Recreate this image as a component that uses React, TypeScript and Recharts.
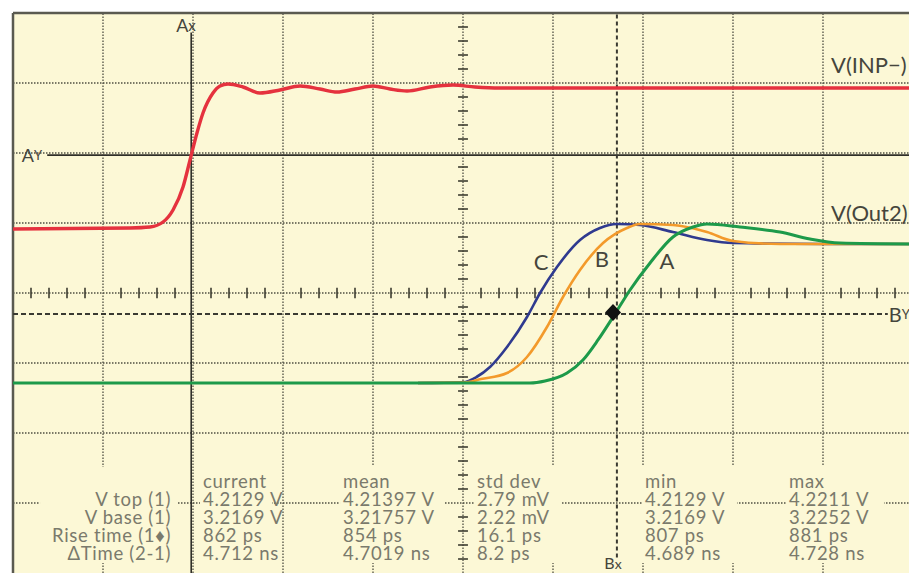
import React from 'react';
import { LineChart, Line, XAxis, YAxis, CartesianGrid, ReferenceLine, ReferenceDot } from 'recharts';

// Units: screen divisions (10 horizontal, 8 vertical)
const inpT = [0, 1.3, 1.522, 1.667, 1.778, 1.889, 1.967, 2.044, 2.111, 2.222, 2.3, 2.389, 2.556, 2.744, 2.967, 3.189, 3.411, 3.6, 3.8, 4.0, 4.189, 4.378, 4.633, 4.889, 5.133, 5.411, 10];
const inpV = [4.914, 4.929, 4.943, 5.014, 5.186, 5.514, 5.9, 6.286, 6.571, 6.857, 6.957, 6.986, 6.943, 6.857, 6.9, 6.957, 6.914, 6.871, 6.914, 6.957, 6.914, 6.886, 6.943, 6.971, 6.943, 6.929, 6.929];

const aT = [0, 5.744, 5.911, 6.156, 6.333, 6.5, 6.667, 6.856, 7.078, 7.333, 7.556, 7.711, 8.078, 8.522, 8.856, 9.189, 10];
const aV = [2.714, 2.714, 2.743, 2.857, 3.043, 3.329, 3.657, 4.043, 4.429, 4.8, 4.943, 4.986, 4.943, 4.871, 4.771, 4.714, 4.7];

const bT = [4.5, 5.0, 5.2, 5.489, 5.711, 5.933, 6.111, 6.3, 6.556, 6.822, 6.967, 7.333, 7.711, 8.0, 8.522, 9.0, 10];
const bV = [2.714, 2.72, 2.77, 2.857, 3.086, 3.514, 3.943, 4.329, 4.714, 4.929, 4.986, 4.971, 4.871, 4.743, 4.7, 4.7, 4.7];

const cT = [4.5, 5.0, 5.15, 5.3, 5.489, 5.711, 5.856, 6.044, 6.3, 6.522, 6.711, 6.967, 7.333, 7.711, 8.0, 9.0, 10];
const cV = [2.714, 2.725, 2.8, 2.943, 3.229, 3.657, 4.0, 4.371, 4.757, 4.929, 4.986, 4.971, 4.871, 4.757, 4.714, 4.7, 4.7];

const gridX = [1, 2, 3, 4, 6, 7, 8, 9];
const gridY = [1, 2, 3, 5, 6, 7];
const centerX = 5;
const centerY = 4;

const rowLabels = ['V top (1)', 'V base (1)', 'Rise time (1\u2666)', '\u0394Time (2-1)'];
const columnHeaders = ['current', 'mean', 'std dev', 'min', 'max'];
const currentVals = ['4.2129 V', '3.2169 V', '862 ps', '4.712 ns'];
const meanVals = ['4.21397 V', '3.21757 V', '854 ps', '4.7019 ns'];
const stdDevVals = ['2.79 mV', '2.22 mV', '16.1 ps', '8.2 ps'];
const minVals = ['4.2129 V', '3.2169 V', '807 ps', '4.689 ns'];
const maxVals = ['4.2211 V', '3.2252 V', '881 ps', '4.728 ns'];
const columnX = [2.111, 3.667, 5.156, 7.022, 8.622];
const columnW = [72, 104, 88, 95, 98];
const tableHeaderY = 1.314;
const labelColX = 1.756;

const BG = '#fcf8d6';
const GRID = '#4f4f42';
const TABLE = '#7a7a6c';
const LABEL = '#45453c';
const FONT = "Lato, 'Noto Sans', sans-serif";

const pts = (t: number[], v: number[]) => t.map((x, i) => ({ x, y: v[i] }));

const minorXs: number[] = [];
for (let k = 1; k < 50; k++) if (k % 5 !== 0) minorXs.push(k / 5);
const minorYs: number[] = [];
for (let k = 1; k < 40; k++) if (k % 5 !== 0) minorYs.push(k / 5);

const rowOffsets = [0, 17.5, 35.5, 53.5, 72];
const TS = 18.5;
const LS = 0.7;

const txt = (key: string, x: number, y: number, content: React.ReactNode, size: number, color: string, anchor: string = 'start') => (
  <ReferenceDot
    key={key}
    x={x}
    y={y}
    r={0}
    ifOverflow="visible"
    shape={(p: any) => (
      <text x={p.cx} y={p.cy} fontSize={size} fill={color} fontFamily={FONT} textAnchor={anchor as any} dominantBaseline="central">
        {content}
      </text>
    )}
  />
);

export default function App() {
  const allCols = [currentVals, meanVals, stdDevVals, minVals, maxVals];
  return (
    <div style={{ position: 'fixed', left: 0, top: 0, width: 909, height: 573, overflow: 'hidden', background: '#ffffff' }}>
      <LineChart width={925} height={590} margin={{ top: 13, left: 13, right: 12, bottom: 17 }}>
        <CartesianGrid horizontal={false} vertical={false} fill={BG} stroke="none" />
        <XAxis type="number" dataKey="x" domain={[0, 10]} hide allowDataOverflow />
        <YAxis type="number" dataKey="y" domain={[0, 8]} hide allowDataOverflow />

        {gridX.map((x) => (
          <ReferenceLine key={'gx' + x} x={x} stroke={GRID} strokeWidth={1.3} strokeDasharray="1.5 1.5" />
        ))}
        {gridY.map((y) => (
          <ReferenceLine key={'gy' + y} y={y} stroke={GRID} strokeWidth={1.3} strokeDasharray="1.5 1.5" />
        ))}
        <ReferenceLine x={centerX} stroke={GRID} strokeWidth={1.3} strokeDasharray="1.5 1.5" />
        <ReferenceLine y={centerY} stroke={GRID} strokeWidth={1.3} strokeDasharray="1.5 1.5" />
        {minorXs.map((x) => (
          <ReferenceLine key={'mx' + x} segment={[{ x, y: centerY - 0.075 }, { x, y: centerY + 0.075 }]} stroke="#3c3c30" strokeWidth={1.6} />
        ))}
        {minorYs.map((y) => (
          <ReferenceLine key={'my' + y} segment={[{ x: centerX - 0.055, y }, { x: centerX + 0.055, y }]} stroke="#3c3c30" strokeWidth={1.6} />
        ))}

        {/* frame */}
        <ReferenceLine x={0} stroke="#5a5a50" strokeWidth={2.5} />
        <ReferenceLine y={8} stroke="#5a5a50" strokeWidth={2.5} />

        {/* cursors */}
        <ReferenceLine segment={[{ x: 1.98, y: 0 }, { x: 1.98, y: 7.72 }]} stroke="#2f2f28" strokeWidth={1.6} />
        <ReferenceLine segment={[{ x: 0.38, y: 5.97 }, { x: 10, y: 5.97 }]} stroke="#2f2f28" strokeWidth={1.6} />
        <ReferenceLine segment={[{ x: 6.71, y: 0.22 }, { x: 6.71, y: 8 }]} stroke="#3a3a32" strokeWidth={2} strokeDasharray="4 3" />
        <ReferenceLine segment={[{ x: 0, y: 3.7 }, { x: 9.72, y: 3.7 }]} stroke="#3a3a32" strokeWidth={2} strokeDasharray="5 3" />

        <Line data={pts(cT, cV)} dataKey="y" type="monotone" stroke="#2f3a8f" strokeWidth={2.6} dot={false} isAnimationActive={false} />
        <Line data={pts(bT, bV)} dataKey="y" type="monotone" stroke="#f39a2b" strokeWidth={2.6} dot={false} isAnimationActive={false} />
        <Line data={pts(aT, aV)} dataKey="y" type="monotone" stroke="#1d9a4a" strokeWidth={3} dot={false} isAnimationActive={false} />
        <Line data={pts(inpT, inpV)} dataKey="y" type="monotone" stroke="#e5323e" strokeWidth={3.4} dot={false} isAnimationActive={false} />

        <ReferenceDot
          x={6.667}
          y={3.72}
          r={8}
          ifOverflow="visible"
          shape={(p: any) => (
            <polygon points={`${p.cx},${p.cy - 8.5} ${p.cx + 8},${p.cy} ${p.cx},${p.cy + 8.5} ${p.cx - 8},${p.cy}`} fill="#111" />
          )}
        />

        {txt('ax', 1.922, 7.83, <>A<tspan fontSize={15}>x</tspan></>, 18, LABEL, 'middle')}
        {txt('ay', 0.21, 5.97, <>A<tspan fontSize={13}>Y</tspan></>, 18, LABEL, 'middle')}
        {txt('bx', 6.667, 0.15, <>B<tspan fontSize={14}>x</tspan></>, 16, LABEL, 'middle')}
        {txt('by', 9.73, 3.7, <>B<tspan fontSize={13}>Y</tspan></>, 20, LABEL, 'start')}
        {txt('inp', 9.09, 7.27, 'V(INP\u2212)', 22, LABEL, 'start')}
        {txt('out2', 9.09, 5.157, 'V(Out2)', 22, LABEL, 'start')}
        {txt('lc', 5.867, 4.443, 'C', 22, LABEL, 'middle')}
        {txt('lb', 6.544, 4.5, 'B', 22, LABEL, 'middle')}
        {txt('la', 7.267, 4.471, 'A', 22, LABEL, 'middle')}

        {/* row labels block */}
        <ReferenceDot
          x={labelColX}
          y={tableHeaderY}
          r={0}
          ifOverflow="visible"
          shape={(p: any) => (
            <g>
              <rect x={p.cx - 131} y={p.cy - 14} width={137} height={96} fill={BG} />
              <text fontSize={TS} letterSpacing={LS} fill={TABLE} fontFamily={FONT} textAnchor="end" dominantBaseline="central">
                {rowLabels.map((s, i) => (
                  <tspan key={s} x={p.cx} y={p.cy + rowOffsets[i + 1]}>
                    {s}
                  </tspan>
                ))}
              </text>
            </g>
          )}
        />
        {columnHeaders.map((h, c) => (
          <ReferenceDot
            key={h}
            x={columnX[c]}
            y={tableHeaderY}
            r={0}
            ifOverflow="visible"
            shape={(p: any) => (
              <g>
                <rect x={p.cx - 3} y={p.cy - 16} width={columnW[c]} height={98} fill={BG} />
                <text fontSize={TS} letterSpacing={LS} fill={TABLE} fontFamily={FONT} dominantBaseline="central">
                  <tspan x={p.cx} y={p.cy}>
                    {h}
                  </tspan>
                  {allCols[c].map((s, i) => (
                    <tspan key={i} x={p.cx} y={p.cy + rowOffsets[i + 1]}>
                      {s}
                    </tspan>
                  ))}
                </text>
              </g>
            )}
          />
        ))}
      </LineChart>
    </div>
  );
}
